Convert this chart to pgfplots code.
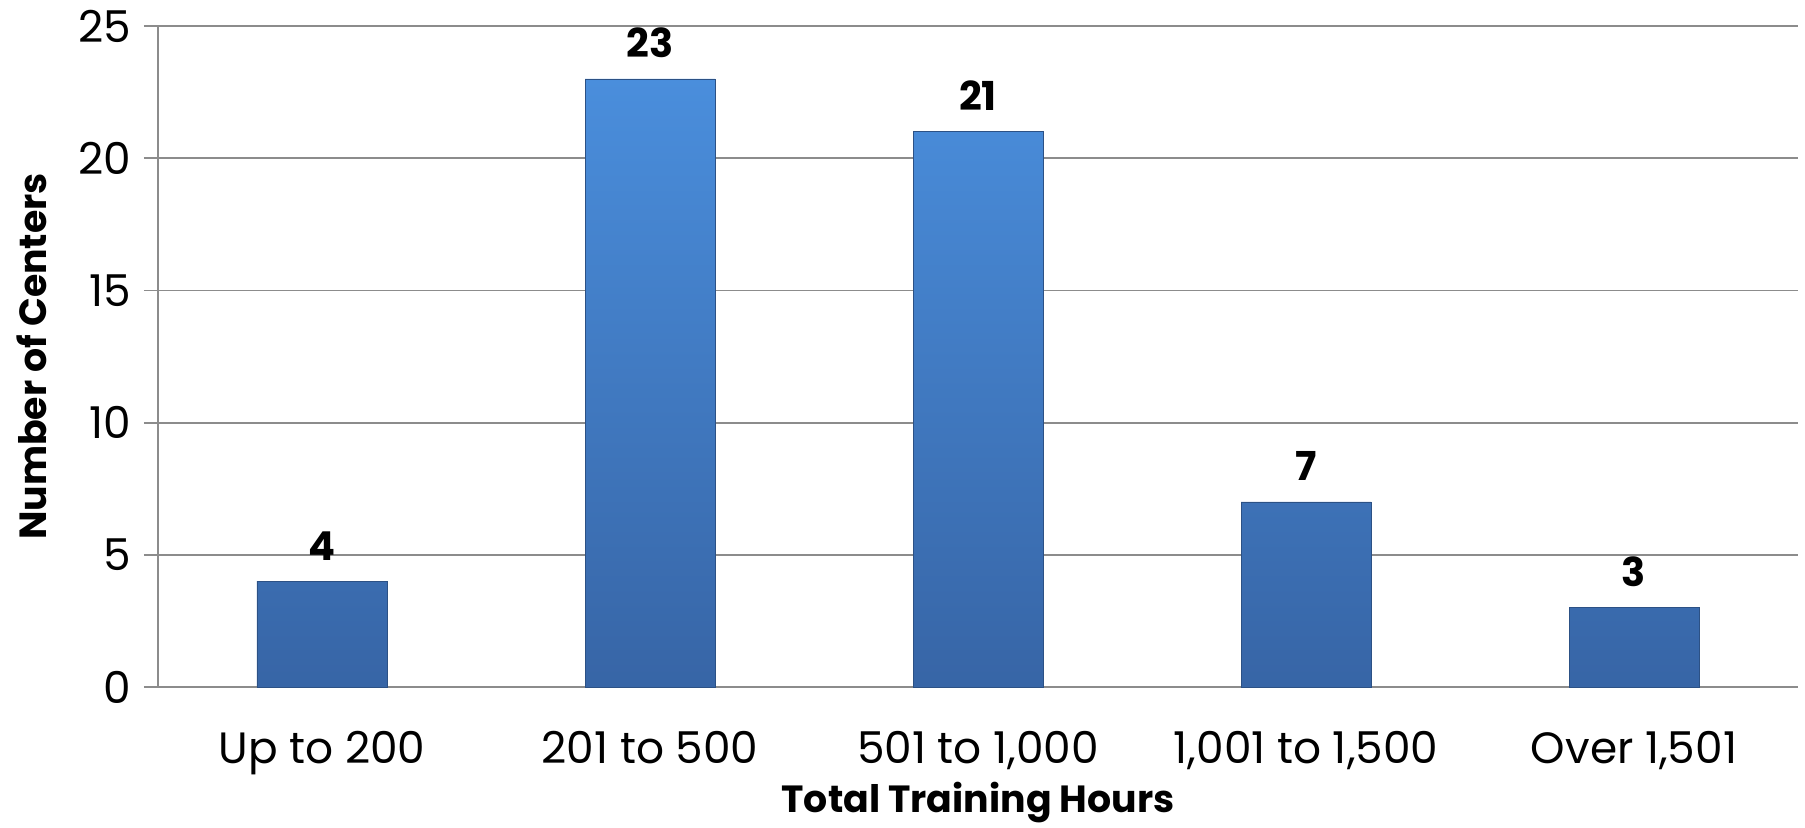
\documentclass[border=0pt]{standalone}
\usepackage{pgfplots}
\pgfplotsset{compat=1.18}
\usepackage{fontspec}
\setmainfont{Poppins}
\definecolor{gridc}{HTML}{8C8C8C}
\definecolor{bartop}{HTML}{4A8EDC}
\definecolor{barbot}{HTML}{3765A6}
\begin{document}
\begin{tikzpicture}[x=1bp,y=1bp]
\path[use as bounding box] (-79,-70) rectangle (823.5,343.5);
\begin{axis}[
  at={(0,0)}, anchor=south west,
  scale only axis, width=820bp, height=330.5bp,
  ymin=0, ymax=25, ytick={0,5,...,25},
  xmin=-0.5, xmax=4.5, xtick=data,
  xticklabels={Up to 200, 201 to 500, {501 to 1,000}, {1,001 to 1,500}, {Over 1,501}},
  axis x line*=bottom, axis y line*=left,
  axis line style={gridc, line width=1pt},
  ymajorgrids, grid style={gridc, line width=0.9pt},
  major tick length=7bp,
  ytick style={gridc, line width=0.9pt},
  y tick label style={xshift=-3bp},
  xtick style={draw=none},
  tick align=outside,
  /pgf/number format/assume math mode=true,
  ticklabel style={font=\fontsize{22}{26}\selectfont},
  x tick label style={anchor=base, yshift=-31bp},
  xlabel={\bfseries Total Training Hours},
  ylabel={\bfseries Number of Centers},
  label style={font=\fontsize{19}{22}\selectfont},
  xlabel style={at={(axis description cs:0.5,0)}, anchor=center, yshift=-58bp},
  ylabel style={at={(axis description cs:0,0.5)}, anchor=center, rotate=0, yshift=63bp},
  ybar, bar width=65bp,
  nodes near coords,
  every node near coord/.append style={font=\fontsize{20}{24}\selectfont\bfseries, yshift=7bp},
]
\addplot[ybar, draw=barbot!80!black, line width=0.3pt, top color=bartop, bottom color=barbot] coordinates {(0,4) (1,23) (2,21) (3,7) (4,3)};
\end{axis}
\end{tikzpicture}
\end{document}
